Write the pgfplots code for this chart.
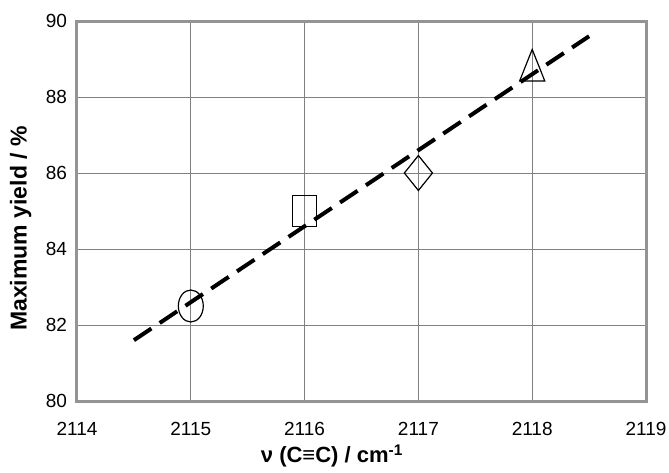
\documentclass[border=0pt]{standalone}
\usepackage{fontspec}
\setmainfont{Liberation Sans}
\usepackage{pgfplots}
\pgfplotsset{compat=1.18}
\begin{document}
\begin{tikzpicture}
\path[use as bounding box] (-77pt,-71pt) rectangle (592pt,401pt);
\begin{axis}[
  at={(0pt,0pt)}, anchor=south west,
  scale only axis, width=569pt, height=380pt,
  xmin=2114, xmax=2119, ymin=80, ymax=90,
  xtick={2114,2115,2116,2117,2118,2119}, ytick={80,82,84,86,88,90},
  grid=major, major grid style={draw=black!50, line width=0.9pt},
  axis line style={draw=black!42, line width=3pt},
  major tick length=0pt,
  /pgf/number format/assume math mode=true,
  /pgf/number format/1000 sep={},
  ticklabel style={font=\fontsize{19}{21}\selectfont},
  xticklabel style={yshift=-18pt},
  yticklabel style={xshift=-6.5pt},
  xlabel={ν (C≡C) / cm\textsuperscript{-1}},
  ylabel={Maximum yield / \%},
  xlabel style={at={(axis description cs:0.448,-0.163)}, anchor=base, font=\bfseries\fontsize{22}{24}\selectfont},
  ylabel style={at={(axis description cs:-0.099,0.454)}, anchor=center, font=\bfseries\fontsize{23}{25}\selectfont},
  clip=false,
]
\addplot[only marks, mark=o, mark size=16pt, mark options={xscale=0.78, draw=black, line width=1.2pt}] coordinates {(2115,82.5)};
\addplot[only marks, mark=square, mark size=15.5pt, mark options={xscale=0.77, draw=black, line width=1.2pt}] coordinates {(2116,85.0)};
\addplot[only marks, mark=diamond, mark size=17.5pt, mark options={xscale=1.07, draw=black, line width=1.2pt}] coordinates {(2117,86.0)};
\addplot[only marks, mark=triangle, mark size=21pt, mark options={xscale=0.69, draw=black, line width=1.2pt}] coordinates {(2118,88.7)};
\addplot[black, line width=4pt, dash pattern=on 21pt off 10pt] coordinates {(2114.5,81.6) (2118.5,89.6)};
\end{axis}
\end{tikzpicture}
\end{document}
